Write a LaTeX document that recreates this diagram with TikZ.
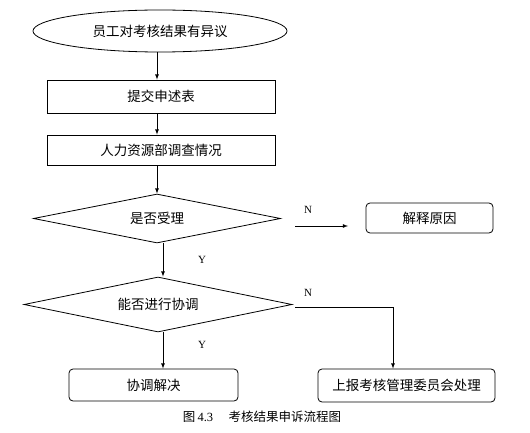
\documentclass[tikz,border=0pt]{standalone}
\usepackage{fontspec}
\newfontfamily\zh{Noto Sans CJK SC}
\newfontfamily\lat{Liberation Serif}
\usetikzlibrary{shapes.geometric}
\tikzset{
  passo/.style={draw,line width=0.8pt,inner sep=0pt,font=\zh\fontsize{13.5}{16}\selectfont},
  blocco/.style={passo,rectangle},
  esito/.style={passo,rectangle,rounded corners=4pt},
  scelta/.style={passo,diamond,aspect=5},
  freccia/.style={-latex,line width=0.8pt},
  lettera/.style={font=\lat\fontsize{11}{12}\selectfont}
}
\begin{document}
\begin{tikzpicture}[x=1pt,y=-1pt]
        \useasboundingbox (0,0) rectangle (530,433);
        %inizio
        \node(start) at (160,31)[passo,ellipse,minimum width=254pt,minimum height=42pt]{员工对考核结果有异议};
        %blocchi
        \node(b1) at (161,96.5)[blocco,minimum width=228pt,minimum height=33pt]{提交申述表};
        \node(b2) at (161,150)[blocco,minimum width=228pt,minimum height=30pt]{人力资源部调查情况};
        %decisioni
        \node(d1) at (157,218.5)[scelta,minimum width=247pt,minimum height=49pt]{是否受理};
        \node(d2) at (158,304.5)[scelta,minimum width=268pt,minimum height=55pt]{能否进行协调};
        %esiti
        \node(r1) at (429.5,218)[esito,minimum width=127pt,minimum height=30pt]{解释原因};
        \node(r2) at (153.5,385)[esito,minimum width=169pt,minimum height=32pt]{协调解决};
        \node(r3) at (406.5,385.5)[esito,minimum width=177pt,minimum height=33pt]{上报考核管理委员会处理};
        %punti liberi
        \coordinate(n1) at (295,226);
        \coordinate(m1) at (348,226);
        \coordinate(n2) at (295,307);
        \coordinate(k2) at (393,307);
        %frecce
        \draw[freccia](start.south -| d1)--(b1.north -| d1);
        \draw[freccia](b1.south -| d1)--(b2.north -| d1);
        \draw[freccia](b2.south -| d1)--(d1.north);
        \draw[freccia]([xshift=6pt]d1.south)--([xshift=6pt]d1.south |- d2.north);
        \draw[freccia]([xshift=5pt]d2.south)--([xshift=5pt]d2.south |- r2.north);
        \draw[freccia](n1)--(m1);
        \draw[freccia](n2)--(k2)--(k2 |- r3.north);
        %lettere
        \node(y1) at (202,260)[lettera]{Y};
        \node(y2) at (202,345)[lettera]{Y};
        \node(no1) at (308,210)[lettera]{N};
        \node(no2) at (308,293)[lettera]{N};
        %didascalia
        \node(cap) at (262,417){\zh\fontsize{12.5}{14}\selectfont 图\,{\lat 4.3}\quad\ 考核结果申诉流程图};
    \end{tikzpicture}
\end{document}
